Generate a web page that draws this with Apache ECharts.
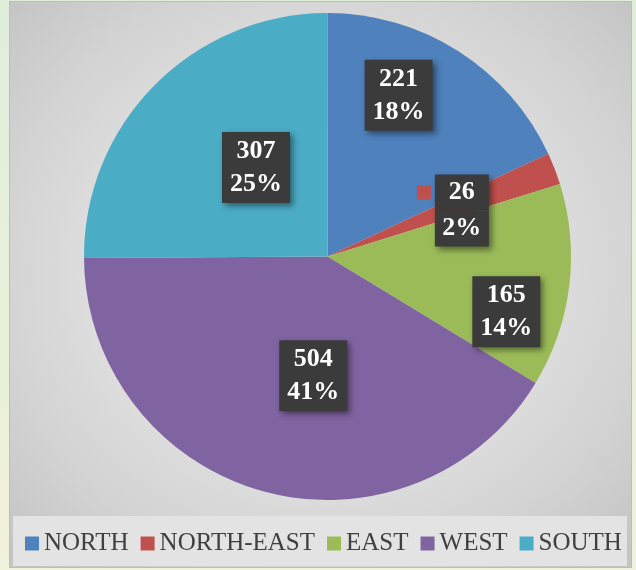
<!DOCTYPE html>
<html>
<head>
<meta charset="utf-8">
<script src="https://cdn.jsdelivr.net/npm/echarts@6/dist/echarts.min.js"></script>
<style>
  html, body { margin:0; padding:0; width:636px; height:570px; overflow:hidden;
    background: linear-gradient(180deg, #dfeed9 0%, #e8f0da 50%, #f1f1dc 100%); }
  #frame { position:absolute; left:9px; top:1px; width:621px; height:565px;
    border:1px solid #bdbdbd;
    background: radial-gradient(ellipse 70% 70% at 50% 48%, #e9e9e9 0%, #e3e3e3 40%, #d3d3d3 75%, #c4c4c4 100%); }
  #legendBox { position:absolute; left:13px; top:516px; width:614px; height:50px; background:#e3e3e3; }
  #chart { position:absolute; left:0; top:0; width:636px; height:570px; }
</style>
</head>
<body>
<div id="frame"></div>
<div id="legendBox"></div>
<div id="chart"></div>
<script>
const categories = ['NORTH', 'NORTH-EAST', 'EAST', 'WEST', 'SOUTH'];
const values = [221, 26, 165, 504, 307];
const colors = ['#4F81BD', '#C0504D', '#9BBB59', '#8064A2', '#4BACC6'];
const labelOffsets = [[4, -56], [9, -1], [55, 40], [19, -1], [17, -1]];

const serif = '"Liberation Serif", "Times New Roman", serif';
const boxColor = '#3b3b3b';

const data = categories.map((name, i) => {
  const item = { name: name, value: values[i], itemStyle: { color: colors[i] },
    label: { offset: labelOffsets[i] } };
  if (name === 'NORTH-EAST') {
    item.label = {
      offset: labelOffsets[i],
      backgroundColor: 'transparent',
      padding: 0,
      shadowBlur: 0, shadowOffsetX: 0, shadowOffsetY: 0,
      formatter: function (p) {
        return '{k|}{s|}{b|' + p.value + '}\n{e|}{s|}{b|' + p.percent + '%}';
      },
      rich: {
        k: { width: 14, height: 14, backgroundColor: colors[i] },
        s: { width: 4 },
        e: { width: 14 },
        b: { width: 54, height: 36, lineHeight: 36, align: 'center', backgroundColor: boxColor,
             color: '#ffffff', fontFamily: serif, fontWeight: 'bold', fontSize: 26,
             shadowBlur: 6, shadowColor: 'rgba(0,0,0,0.45)', shadowOffsetX: 3, shadowOffsetY: 3 }
      }
    };
  }
  return item;
});

const chart = echarts.init(document.getElementById('chart'), null, { renderer: 'canvas' });
chart.setOption({
  backgroundColor: 'transparent',
  animation: false,
  legend: {
    data: categories,
    left: 25, top: 531,
    padding: 0,
    itemWidth: 14, itemHeight: 14, itemGap: 12,
    icon: 'rect',
    textStyle: { fontFamily: serif, fontSize: 25, color: '#404040', padding: [2, 0, 0, 0] }
  },
  series: [{
    type: 'pie',
    center: [327.5, 256.5],
    radius: [0, 243.5],
    startAngle: 90,
    clockwise: true,
    percentPrecision: 0,
    avoidLabelOverlap: false,
    labelLine: { show: false },
    emphasis: { disabled: true },
    label: {
      show: true,
      position: 'inside',
      formatter: '{c}\n{d}%',
      color: '#ffffff',
      fontFamily: serif,
      fontWeight: 'bold',
      fontSize: 26,
      lineHeight: 33,
      align: 'center',
      backgroundColor: boxColor,
      padding: [3, 8, 2, 8],
      shadowBlur: 6, shadowColor: 'rgba(0,0,0,0.45)', shadowOffsetX: 3, shadowOffsetY: 3
    },
    data: data
  }]
});
</script>
</body>
</html>
